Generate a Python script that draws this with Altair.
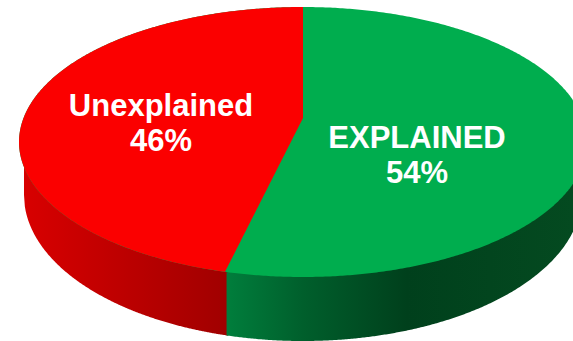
import numpy as np
import pandas as pd
import altair as alt

# Pie values and captions
names = ["Unexplained", "EXPLAINED"]
shares = [46, 54]
label_x = [161, 417]
label_y = [116, 148]
line_gap = 35

# Fills
TOP_COLORS = {"Unexplained": "#fb0000", "EXPLAINED": "#00ad4e"}
RED_WALL = [(0.0, "#d80000"), (1.0, "#a00000")]
GREEN_WALL = [(0.0, "#007e3c"), (0.22, "#005f2c"), (0.52, "#00401c"), (1.0, "#044a20")]

# Projected pie: rim ellipse, hub, lower rim of the wall
W, H = 573, 341
CX, CY, A, B = 303.0, 142.0, 284.0, 135.0
HUB_Y = 118.0
BOT_CY, BOT_A, BOT_B = 195.0, 279.0, 146.0
LEAN = 0.097  # near-side widening caused by the tilt


def rim(x, a, b, cy, sign):
    t = np.clip((x - CX) / a, -1, 1)
    return cy + sign * b * np.sqrt(1 - t * t)


# The slice border runs from the hub to the rim at the angle given by the share
theta = 2 * np.pi * shares[0] / sum(shares)
end_x = CX + A * np.sin(-theta) / (1 - LEAN * -np.cos(theta))
end_y = rim(end_x, A, B, CY, 1)

# Green covers the full disc, clipped by the canvas on the right
xs_disc = CX + A * np.sin(np.linspace(-np.pi / 2, np.pi / 2, 361))
xs_disc = xs_disc[xs_disc <= W]
xs_disc = np.append(xs_disc, W)
disc = pd.DataFrame({"x": xs_disc, "y": rim(xs_disc, A, B, CY, -1), "y2": rim(xs_disc, A, B, CY, 1)})

# Red wedge: upper rim above, lower rim then the slice border below
xs_red = np.unique(np.concatenate([
    CX + A * np.sin(np.linspace(-np.pi / 2, 0, 241)), [end_x],
]))
lower = np.where(
    xs_red <= end_x,
    rim(xs_red, A, B, CY, 1),
    end_y + (HUB_Y - end_y) * (xs_red - end_x) / (CX - end_x),
)
wedge = pd.DataFrame({"x": xs_red, "y": rim(xs_red, A, B, CY, -1), "y2": lower})


def wall(x0, x1):
    xs = np.linspace(x0, x1, 240)
    inside = np.abs(xs - CX) <= BOT_A
    xs = xs[inside]
    return pd.DataFrame({"x": xs, "y": rim(xs, A, B, CY, 1) - 12, "y2": rim(xs, BOT_A, BOT_B, BOT_CY, 1)})


def gradient(stops):
    return alt.Gradient(
        gradient="linear", x1=0, x2=1, y1=0, y2=0,
        stops=[alt.GradientStop(offset=o, color=c) for o, c in stops],
    )


x_scale = alt.Scale(domain=[0, W], range=[0, W], nice=False, zero=False)
y_scale = alt.Scale(domain=[H, 0], range=[H, 0], nice=False, zero=False)
enc = dict(
    x=alt.X("x:Q", scale=x_scale, axis=None),
    y=alt.Y("y:Q", scale=y_scale, axis=None),
    y2="y2:Q",
)

# The red wall runs slightly under the green one so no seam shows between them
red_wall = alt.Chart(wall(CX - BOT_A, end_x + 3)).mark_area(color=gradient(RED_WALL)).encode(**enc)
green_wall = alt.Chart(wall(end_x + 1.5, W)).mark_area(color=gradient(GREEN_WALL)).encode(**enc)
green_top = alt.Chart(disc).mark_area(color=TOP_COLORS["EXPLAINED"]).encode(**enc)
red_top = alt.Chart(wedge).mark_area(color=TOP_COLORS["Unexplained"]).encode(**enc)

captions = pd.DataFrame({
    "x": label_x * 2,
    "y": label_y + [v + line_gap for v in label_y],
    "t": names + [f"{s}%" for s in shares],
})
text = alt.Chart(captions).mark_text(
    font="Liberation Sans", fontWeight="bold", fontSize=31,
    color="white", align="center", baseline="alphabetic",
).encode(
    x=alt.X("x:Q", scale=x_scale, axis=None),
    y=alt.Y("y:Q", scale=y_scale, axis=None),
    text="t:N",
)

chart = (
    alt.layer(red_wall, green_wall, green_top, red_top, text)
    .properties(width=W, height=H, padding=0, autosize=alt.AutoSizeParams(type="none"), background="white")
    .configure_view(stroke=None)
)

chart.save("out.html", embed_options={"renderer": "svg", "actions": False})
